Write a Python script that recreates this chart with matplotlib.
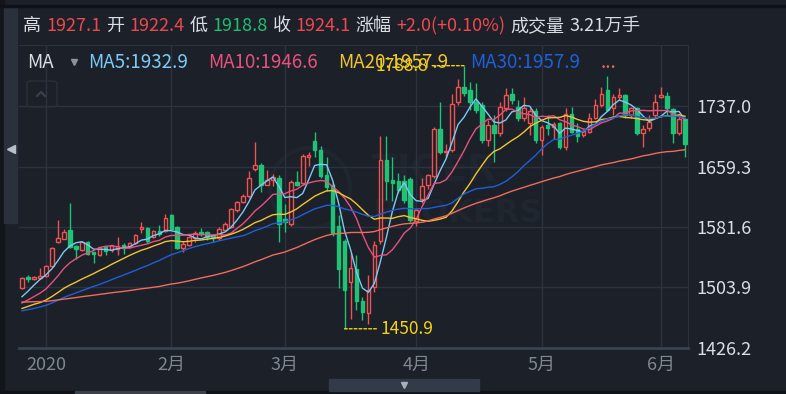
import numpy as np
import pandas as pd
import matplotlib
matplotlib.use('Agg')
import matplotlib.pyplot as plt
from matplotlib.patches import Rectangle, FancyBboxPatch, Circle
from matplotlib.transforms import IdentityTransform

plt.rcParams['font.family'] = ['Noto Sans CJK SC', 'DejaVu Sans']

# ---- data (daily candles, late Dec 2019 .. early Jun 2020) ----
month_labels = ['', '2020', '2月', '3月', '4月', '5月', '6月']
month_sessions = [4, 21, 19, 22, 21, 20, 5]

opens = [1503, 1517, 1515, 1516, 1519, 1531, 1562, 1566.6, 1578, 1557,
         1552, 1562, 1549.5, 1545, 1556, 1551.7, 1553, 1559, 1555.5, 1561.4,
         1578.6, 1580.3, 1569, 1577, 1577, 1597, 1581, 1554, 1558, 1568,
         1575, 1575.6, 1571, 1567, 1578, 1582, 1603, 1614, 1621, 1656,
         1661, 1636, 1642, 1645, 1591.5, 1585, 1640, 1638, 1671, 1692,
         1680, 1648, 1635, 1583, 1564, 1511, 1528, 1486, 1471, 1504,
         1563, 1668, 1642, 1641, 1641, 1643, 1589, 1618, 1635, 1647,
         1707, 1678, 1680, 1742, 1761, 1757, 1742, 1738, 1693, 1713,
         1702, 1734, 1752, 1736, 1722, 1715, 1730, 1693, 1712.6, 1710,
         1714.7, 1684, 1726.7, 1708, 1700, 1704, 1722, 1738, 1757.6, 1734,
         1748, 1751, 1725, 1734, 1702, 1708.4, 1725.4, 1749, 1749.8, 1732.8,
         1702, 1720]
highs = [1517, 1520, 1519, 1529, 1533, 1556, 1590.6, 1579, 1612.8, 1558,
         1564, 1563, 1550, 1556, 1557, 1559, 1569, 1561, 1562, 1572,
         1587.6, 1582, 1578, 1584, 1598, 1598, 1583, 1564, 1570, 1576,
         1580, 1577, 1573, 1581, 1588, 1606, 1615, 1624, 1653, 1691,
         1664, 1655, 1650, 1648, 1611, 1642, 1653, 1675, 1678, 1703,
         1685, 1672, 1638, 1597, 1566, 1548, 1546, 1492, 1520, 1563,
         1698, 1698, 1672, 1651, 1648, 1646, 1606, 1644, 1650, 1710,
         1742, 1688, 1753, 1772, 1788.8, 1768, 1766, 1742, 1719, 1725,
         1742, 1760, 1760, 1745, 1748, 1735, 1734, 1713, 1725, 1717,
         1717, 1734, 1736, 1714.7, 1708, 1727.6, 1745.6, 1762, 1775.5, 1753,
         1760, 1753, 1736, 1736, 1712.6, 1725, 1753, 1761, 1755, 1735,
         1725, 1722]
lows = [1502, 1511, 1514, 1515, 1518, 1530, 1561, 1566, 1555, 1540,
        1551, 1546, 1535, 1544, 1546, 1550, 1545, 1547, 1554, 1560,
        1574.3, 1561, 1567, 1570, 1575, 1578, 1553, 1550, 1557, 1562,
        1570, 1565, 1562, 1565, 1576, 1580, 1601, 1612, 1619, 1654,
        1627, 1635, 1634, 1562, 1575.6, 1583, 1634, 1636, 1660, 1672,
        1645, 1628, 1570, 1503, 1450.9, 1464, 1475, 1462, 1457, 1498,
        1560, 1616, 1615, 1625, 1612, 1588, 1583, 1612, 1630, 1645,
        1675, 1672, 1678, 1738, 1750, 1732, 1728, 1690, 1685, 1665,
        1698, 1730, 1740, 1718, 1718, 1700, 1690, 1674, 1700, 1695,
        1682, 1680.5, 1702, 1691, 1697, 1702, 1720, 1736, 1730, 1725,
        1745, 1722, 1722, 1700, 1684, 1705, 1723, 1747, 1725, 1689,
        1700, 1671]
closes = [1516.5, 1515, 1518, 1519, 1532, 1555, 1567, 1575.6, 1555.5, 1553,
          1562.7, 1547, 1547.3, 1555.5, 1551, 1558, 1557, 1554, 1560.6, 1571,
          1581.2, 1563.6, 1576.5, 1572, 1593, 1579, 1555, 1560, 1569, 1573.5,
          1574, 1569, 1568, 1579, 1586, 1605, 1614, 1621, 1645, 1661,
          1635, 1642, 1646, 1586, 1588.5, 1640, 1636, 1673, 1674.5, 1680,
          1647, 1633, 1574, 1528, 1501, 1528.5, 1486, 1472, 1501, 1559,
          1668, 1641, 1638, 1629, 1616, 1591, 1603, 1634, 1648, 1707,
          1678, 1679, 1740, 1762, 1754, 1742.5, 1732, 1693, 1713, 1702,
          1736, 1751, 1745, 1722, 1735, 1731, 1693, 1710, 1708.4, 1714,
          1684, 1726.7, 1704, 1698.5, 1705, 1722, 1738, 1753, 1732, 1749,
          1751, 1725, 1734, 1702, 1707.5, 1716.8, 1742.5, 1751.6, 1734, 1702,
          1720, 1688]
# closes before the visible window (Oct - Dec 2019), used only for the averages
prior_closes = [1507, 1500, 1512, 1509, 1510, 1505, 1513, 1500, 1492, 1494,
                1488, 1490, 1493, 1488, 1495, 1502, 1504, 1497, 1500, 1514,
                1511, 1514, 1510, 1493, 1490, 1493, 1469, 1470, 1464, 1466,
                1471, 1472, 1463, 1470, 1466, 1461, 1468, 1465, 1470, 1474,
                1464, 1463, 1477, 1466, 1464, 1465, 1468, 1471, 1480, 1482,
                1477, 1474, 1476, 1478, 1475, 1480, 1479, 1483, 1502]

y_ticks = [1426.2, 1503.9, 1581.6, 1659.3, 1737.0]

header = [('高', 'w'), ('1927.1', 'r'), ('开', 'w'), ('1922.4', 'r'), ('低', 'w'),
          ('1918.8', 'g'), ('收', 'w'), ('1924.1', 'r'), ('涨幅', 'w'),
          ('+2.0(+0.10%)', 'r'), ('成交量', 'w'), ('3.21万手', 'w')]
ma_periods = [5, 10, 20, 30, 60]
ma_legend = ['MA5:1932.9', 'MA10:1946.6', 'MA20:1957.9', 'MA30:1957.9', '...']

# ---- style ----
W, H = 786, 394
BG = '#1b2029'
GRID = '#2c333e'
UP = '#f0524f'
DOWN = '#20c275'
TXT = '#dadee4'
WM = '#20262f'
MA_COLORS = ['#7ccaf6', '#e8517f', '#f3c431', '#1f5fd8', '#f26b5c']

fig = plt.figure(figsize=(W / 100, H / 100), dpi=100, facecolor=BG)


def fx(x):
    return x / W


def fy(y):
    return 1 - y / H


# faint watermark, behind the chart
fig.text(fx(372), fy(172), 'TIGER', color=WM, fontsize=27, fontweight='bold',
         family='DejaVu Sans', va='center', ha='left', zorder=-5)
fig.text(fx(372), fy(213), 'BROKERS', color=WM, fontsize=23, fontweight='bold',
         family='DejaVu Sans', va='center', ha='left', zorder=-5)
wm = Circle((310, H - 188), 40, fill=False, ec=WM, lw=3, zorder=-5)
wm.set_transform(IdentityTransform())
fig.add_artist(wm)

# chart area: x 19..688 px, y 45..348 px
ax = fig.add_axes([fx(19), fy(348), fx(688 - 19), (348 - 45) / H])
ax.set_facecolor('none')

n = len(closes)
ax.set_xlim(-0.5, n - 0.5)
ax.set_ylim(y_ticks[0], y_ticks[0] + (348 - 45) * (y_ticks[-1] - y_ticks[0]) / (348 - 106))

# moving averages
allc = pd.Series(prior_closes + closes)
for p, col in zip(ma_periods, MA_COLORS):
    ma = allc.rolling(p).mean().values[-n:]
    ax.plot(np.arange(n), ma, color=col, lw=1.0, zorder=4)

# candles
bw = 0.6
for i, (o, h, l, c) in enumerate(zip(opens, highs, lows, closes)):
    up = c >= o
    col = UP if up else DOWN
    lo, hi = min(o, c), max(o, c)
    ax.vlines(i, l, lo, color=col, lw=1, zorder=3)
    ax.vlines(i, hi, h, color=col, lw=1, zorder=3)
    ax.add_patch(Rectangle((i - bw / 2, lo), bw, max(hi - lo, 0.8),
                           facecolor=BG if up else col, edgecolor=col, lw=1, zorder=3))

# highest / lowest marks
ih = int(np.argmax(highs))
il = int(np.argmin(lows))
mark = '#f5d214'
ax.annotate(f'{highs[ih]:.1f}', xy=(ih, highs[ih]), xytext=(-36, 0),
            textcoords='offset pixels', ha='right', va='center', color=mark,
            fontsize=12.5, zorder=6,
            arrowprops=dict(arrowstyle='-', ls=(0, (2, 1.5)), color=mark, lw=1,
                            shrinkA=1, shrinkB=0))
ax.annotate(f'{lows[il]:.1f}', xy=(il, lows[il]), xytext=(36, 0),
            textcoords='offset pixels', ha='left', va='center', color=mark,
            fontsize=12.5, zorder=6,
            arrowprops=dict(arrowstyle='-', ls=(0, (2, 1.5)), color=mark, lw=1,
                            shrinkA=1, shrinkB=0))

# axes, ticks, grid
starts = np.cumsum([0] + month_sessions[:-1])
xt = [s for s, lab in zip(starts, month_labels) if lab]
xl = [lab for lab in month_labels if lab]
ax.set_xticks(xt)
ax.set_xticklabels(xl)
ax.set_yticks(y_ticks)
ax.set_yticklabels([f'{v:.1f}' for v in y_ticks])
ax.yaxis.tick_right()
ax.tick_params(axis='y', length=0, pad=6, labelsize=13, labelcolor=TXT)
ax.tick_params(axis='x', length=0, pad=6, labelsize=13, labelcolor='#7e8692')
ax.grid(True, color=GRID, lw=1, zorder=0)
ax.set_axisbelow(True)
ax.spines['left'].set_visible(False)
ax.spines['top'].set_color(GRID)
ax.spines['right'].set_color(GRID)
ax.spines['bottom'].set_color('#3a4350')
ax.spines['bottom'].set_linewidth(2)

# header line
renderer = fig.canvas.get_renderer()
cmap = {'w': TXT, 'r': '#f0484e', 'g': '#20c070'}
x = 23
for s, c in header:
    t = fig.text(fx(x), fy(26), s, color=cmap[c], fontsize=13, va='center', ha='left')
    x = t.get_window_extent(renderer).x1 + 5

# MA legend row
fig.text(fx(27), fy(62), 'MA', color=TXT, fontsize=13.5, va='center', ha='left')
fig.add_artist(plt.Line2D([fx(74)], [fy(62)], marker='v', ms=4, color='#8b939e',
                          transform=fig.transFigure))
for s, col, x0 in zip(ma_legend, MA_COLORS, [88, 208, 338, 470, 601]):
    fig.text(fx(x0), fy(62), s, color=col, fontsize=13.5, va='center', ha='left')

# side handle, collapse button, bottom bar
fig.add_artist(Rectangle((0, 0), fx(4), 1, transform=fig.transFigure,
                         color='#12161c', zorder=0))
fig.add_artist(Rectangle((fx(4), fy(223)), fx(13), (223 - 7) / H,
                         transform=fig.transFigure, color='#2a313c', zorder=1))
fig.add_artist(plt.Line2D([fx(10.5)], [fy(149)], marker='<', ms=6, color='#b9bfc8',
                          transform=fig.transFigure))
fig.add_artist(Rectangle((0, fy(7)), 1, 2 / H, transform=fig.transFigure,
                         color='#0f1217', zorder=1))
fig.add_artist(Rectangle((0, 0), 1, 3 / H, transform=fig.transFigure,
                         color='#0f1217', zorder=1))
fig.add_artist(Rectangle((fx(75), 0), fx(130), 3 / H, transform=fig.transFigure,
                         color='#3a414c', zorder=2))
fig.add_artist(Rectangle((fx(329), fy(391)), fx(150), 12 / H,
                         transform=fig.transFigure, color='#333b48', zorder=1))
fig.add_artist(plt.Line2D([fx(404)], [fy(385)], marker='v', ms=5, color='#a9b0ba',
                          transform=fig.transFigure))
btn = FancyBboxPatch((fx(27), fy(107)), fx(30), 26 / H,
                     boxstyle='round,pad=0,rounding_size=0.006',
                     transform=fig.transFigure, fill=False, ec='#29303a', lw=1)
fig.add_artist(btn)
fig.add_artist(plt.Line2D([fx(37), fx(41), fx(45)], [fy(96), fy(92), fy(96)],
                          color='#3a424d', lw=1.5, transform=fig.transFigure))

fig.savefig('out.png', dpi=100, facecolor=BG)
